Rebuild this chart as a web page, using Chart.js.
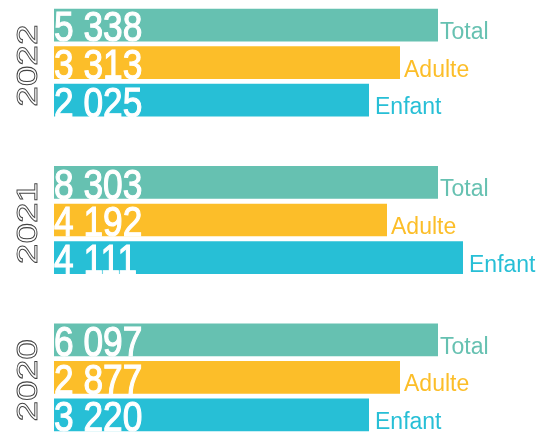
<!DOCTYPE html>
<html>
<head>
<meta charset="utf-8">
<script src="https://cdn.jsdelivr.net/npm/chart.js@4"></script>
<style>
  html, body { margin: 0; padding: 0; background: #fff; overflow: hidden; }
  #wrap { width: 549px; height: 472px; margin-top: -16px; }
</style>
</head>
<body>
<div id="wrap"><canvas id="chart"></canvas></div>
<script>
// years, top to bottom
const years = ["2022", "2021", "2020"];
const series = ["Total", "Adulte", "Enfant"];
const colors = ["#66c1b1", "#fcbe29", "#27bfd6"];

// printed values
const totalValues = [5338, 8303, 6097];
const adultValues = [3313, 4192, 2877];
const childValues = [2025, 4111, 3220];

// bar lengths as drawn (they do not follow the printed values)
const totalLengths = [384, 384, 384];
const adultLengths = [346, 333, 346];
const childLengths = [315, 409, 315];

const printed = [totalValues, adultValues, childValues];
const lengths = [totalLengths, adultLengths, childLengths];
const labelGap = [2, 4, 6];

function fmt(v) {
  return String(v).replace(/\B(?=(\d{3})+(?!\d))/g, " ");
}

// check for a narrow font, otherwise squeeze Liberation Sans
const probe = document.createElement("canvas").getContext("2d");
probe.font = '40px monospace';
const monoW = probe.measureText("0000 abc").width;
probe.font = '40px "Liberation Sans Narrow", monospace';
const hasNarrow = Math.abs(probe.measureText("0000 abc").width - monoW) > 0.5;

function narrowText(ctx, text, x, y, size, mode) {
  ctx.save();
  if (hasNarrow) {
    ctx.font = size + 'px "Liberation Sans Narrow"';
    ctx.translate(x, y);
  } else {
    ctx.font = size + 'px "Liberation Sans", Arial';
    ctx.translate(x, y);
    ctx.scale(0.82, 1);
  }
  if (mode === "outline") {
    ctx.rotate(-Math.PI / 2);
    ctx.textAlign = "center";
    ctx.textBaseline = "middle";
    ctx.fillStyle = "#fff";
    ctx.fillText(text, 0, 0);
    ctx.strokeStyle = "#444";
    ctx.lineWidth = 1.1;
    ctx.strokeText(text, 0, 0);
  } else {
    ctx.textAlign = "left";
    ctx.textBaseline = "alphabetic";
    ctx.fillStyle = "#fff";
    ctx.strokeStyle = "#fff";
    ctx.lineWidth = 1.2;
    ctx.fillText(text, 0, 0);
    ctx.strokeText(text, 0, 0);
  }
  ctx.restore();
}

const labelPlugin = {
  id: "labels",
  afterDatasetsDraw(chart) {
    const ctx = chart.ctx;
    const yScale = chart.scales.y;

    chart.data.datasets.forEach((ds, di) => {
      const meta = chart.getDatasetMeta(di);
      meta.data.forEach((bar, i) => {
        const bottom = bar.y + bar.height / 2;
        narrowText(ctx, fmt(printed[di][i]), chart.chartArea.left, bottom, 43, "fill");

        ctx.save();
        ctx.font = '23px "Liberation Sans", Arial';
        ctx.fillStyle = colors[di];
        ctx.textAlign = "left";
        ctx.textBaseline = "alphabetic";
        ctx.fillText(series[di], bar.x + labelGap[di], bar.y + 14);
        ctx.restore();
      });
    });

    years.forEach((y, i) => {
      narrowText(ctx, y, 29, yScale.getPixelForValue(i) + 3, 37, "outline");
    });
  }
};

new Chart(document.getElementById("chart"), {
  type: "bar",
  data: {
    labels: years,
    datasets: series.map((name, i) => ({
      label: name,
      data: lengths[i],
      backgroundColor: colors[i],
      borderWidth: 0,
      categoryPercentage: 0.716,
      barPercentage: 0.872
    }))
  },
  options: {
    indexAxis: "y",
    responsive: true,
    maintainAspectRatio: false,
    animation: false,
    layout: { padding: { left: 54, right: 0, top: 0, bottom: 0 } },
    plugins: {
      legend: { display: false },
      tooltip: { enabled: false }
    },
    scales: {
      x: { display: false, min: 0, max: 495 },
      y: { display: false }
    }
  },
  plugins: [labelPlugin]
});
</script>
</body>
</html>
